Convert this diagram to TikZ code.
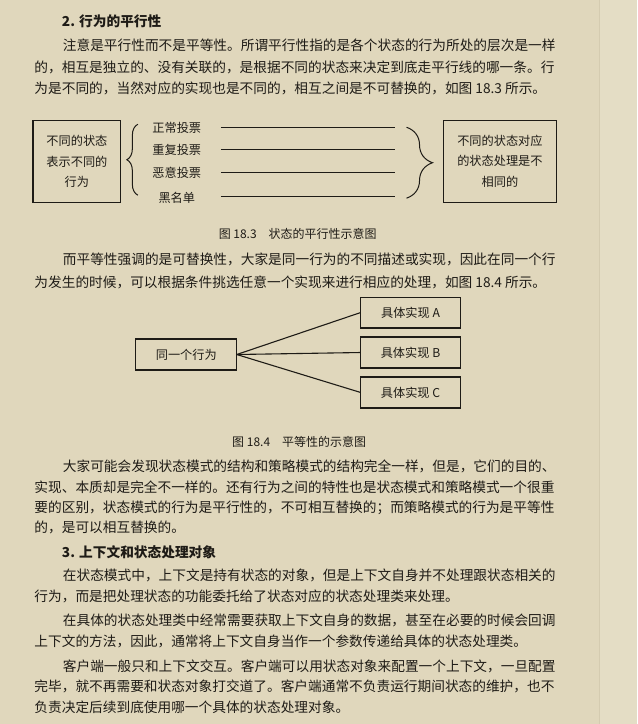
\documentclass[tikz,border=0pt]{standalone}
\usepackage{fontspec}
\setmainfont{Noto Sans CJK SC}
\usetikzlibrary{decorations.pathreplacing}

% CJK: stretchable glue between characters, so a full line can be justified
\XeTeXlinebreaklocale "zh"
\XeTeXlinebreakskip=0pt plus 1.5pt minus 0.4pt

\definecolor{pagebg}{RGB}{224,215,188}
\definecolor{stripbg}{RGB}{228,221,197}
\definecolor{edgeline}{RGB}{212,203,176}
\definecolor{ink}{RGB}{30,27,22}

\newcommand\bodyfont{\fontsize{13.7}{20}\selectfont}
\newcommand\dgfont{\fontsize{12.2}{20.5}\selectfont}
\newcommand\capfont{\fontsize{12}{14}\selectfont}
\newcommand\fullline[2]{\hbox to #1pt{#2}}

\begin{document}
\begin{tikzpicture}[x=1pt, y=-1pt,
    inner sep=0pt, outer sep=0pt,
    txt/.style={anchor=base west, text=ink, font=\bodyfont},
    head/.style={anchor=base west, text=ink, font=\bodyfont\bfseries},
    caption/.style={text=ink, font=\capfont},
    box/.style={draw=ink, line width=1.1pt, align=center, text=ink, font=\dgfont},
    vote/.style={text=ink, font=\dgfont},
    rule/.style={draw=ink, line width=1.1pt},
    curly/.style={draw=ink, line width=1pt, decorate, decoration={brace, amplitude=#1}},
]
    % Page
    \fill[pagebg] (0,0) rectangle (638,724);
    \fill[stripbg] (600,0) rectangle (638,724);
    \draw[edgeline, line width=0.8pt] (600,0) -- (600,724);
    \useasboundingbox (0,0) rectangle (638,724);

    % 2. heading and first paragraph
    \node[head] (h2) at (62,26) {2. 行为的平行性};
    \node[txt] (p1a) at (63,50) {\fullline{498}{注意是平行性而不是平等性。所谓平行性指的是各个状态的行为所处的层次是一样}};
    \node[txt] (p1b) at (34.5,72) {\fullline{526.5}{的，相互是独立的、没有关联的，是根据不同的状态来决定到底走平行线的哪一条。行}};
    \node[txt] (p1c) at (34.5,93) {为是不同的，当然对应的实现也是不同的，相互之间是不可替换的，如图 18.3 所示。};

    % Fig 18.3
    \node[box, minimum width=88pt, minimum height=82pt] (states) at (77,161.5)
        {不同的状态\\表示不同的\\行为};
    \draw[curly=11pt] (138,195) -- (138,124);

    \node[vote] (vote1) at (177,128) {正常投票};
    \node[vote] (vote2) at (177,150) {重复投票};
    \node[vote] (vote3) at (177,173) {恶意投票};
    \node[vote] (vote4) at (177,198) {黑名单};

    \draw[rule] (221,127) -- (395,127);
    \draw[rule] (221,149) -- (395,149);
    \draw[rule] (221,172) -- (395,172);
    \draw[rule] (221,196) -- (395,196);

    \draw[curly=26pt] (407,127) -- (407,198);
    \node[box, minimum width=113pt, minimum height=82pt] (handlers) at (500.5,161)
        {不同的状态对应\\的状态处理是不\\相同的};

    \node[caption] (cap3) at (298,234) {图 18.3\quad 状态的平行性示意图};

    % second paragraph
    \node[txt] (p2a) at (63,264) {\fullline{498}{而平等性强调的是可替换性，大家是同一行为的不同描述或实现，因此在同一个行}};
    \node[txt] (p2b) at (34.5,287) {为发生的时候，可以根据条件挑选任意一个实现来进行相应的处理，如图 18.4 所示。};

    % Fig 18.4
    \node[box, minimum width=101pt, minimum height=31pt] (act) at (186.5,354.5) {同一个行为};
    \node[box, minimum width=100pt, minimum height=31pt] (implA) at (411,312.5) {具体实现 A};
    \node[box, minimum width=100pt, minimum height=31pt] (implB) at (411,352.5) {具体实现 B};
    \node[box, minimum width=100pt, minimum height=31pt] (implC) at (411,392.5) {具体实现 C};
    \draw[rule] (act.east) -- (implA.west);
    \draw[rule] (act.east) -- (implB.west);
    \draw[rule] (act.east) -- (implC.west);

    \node[caption] (cap4) at (299.5,442) {图 18.4\quad 平等性的示意图};

    % third paragraph
    \node[txt] (p3a) at (63,472) {\fullline{498}{大家可能会发现状态模式的结构和策略模式的结构完全一样，但是，它们的目的、}};
    \node[txt] (p3b) at (34.5,493) {\fullline{526.5}{实现、本质却是完全不一样的。还有行为之间的特性也是状态模式和策略模式一个很重}};
    \node[txt] (p3c) at (34.5,513) {\fullline{526.5}{要的区别，状态模式的行为是平行性的，不可相互替换的；而策略模式的行为是平等性}};
    \node[txt] (p3d) at (34.5,533) {的，是可以相互替换的。};

    % 3. heading and the rest
    \node[head] (h3) at (62,558) {3. 上下文和状态处理对象};
    \node[txt] (p4a) at (63,581) {\fullline{498}{在状态模式中，上下文是持有状态的对象，但是上下文自身并不处理跟状态相关的}};
    \node[txt] (p4b) at (34.5,602) {行为，而是把处理状态的功能委托给了状态对应的状态处理类来处理。};
    \node[txt] (p5a) at (63,626) {\fullline{498}{在具体的状态处理类中经常需要获取上下文自身的数据，甚至在必要的时候会回调}};
    \node[txt] (p5b) at (34.5,647) {上下文的方法，因此，通常将上下文自身当作一个参数传递给具体的状态处理类。};
    \node[txt] (p6a) at (63,672) {\fullline{498}{客户端一般只和上下文交互。客户端可以用状态对象来配置一个上下文，一旦配置}};
    \node[txt] (p6b) at (34.5,692) {\fullline{526.5}{完毕，就不再需要和状态对象打交道了。客户端通常不负责运行期间状态的维护，也不}};
    \node[txt] (p6c) at (34.5,713) {负责决定后续到底使用哪一个具体的状态处理对象。};
\end{tikzpicture}
\end{document}
